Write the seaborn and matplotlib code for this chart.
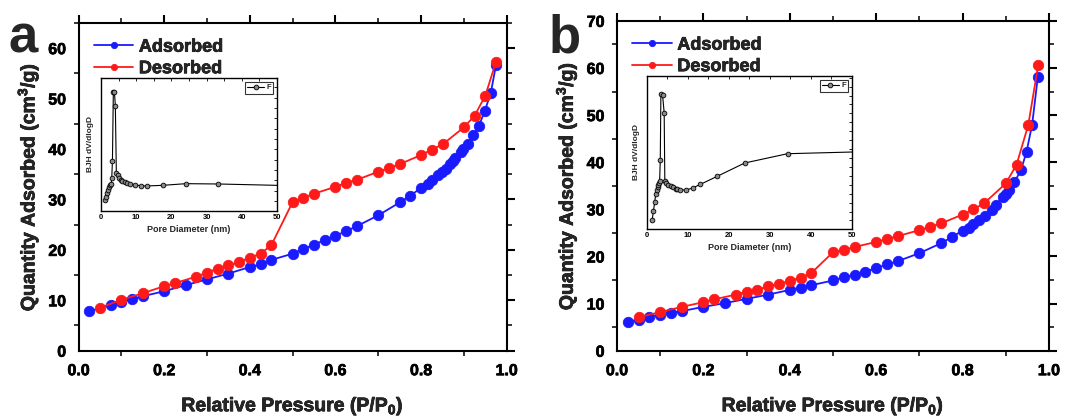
import numpy as np
import pandas as pd
import matplotlib
matplotlib.use("Agg")
import matplotlib.pyplot as plt
import matplotlib.patheffects as pe
from matplotlib.ticker import MultipleLocator, FormatStrFormatter
import seaborn as sns

# ---------------- data ----------------
a_ads_x = [0.025,0.075,0.1,0.125,0.15,0.2,0.25,0.3,0.35,0.4,0.425,0.45,0.5,0.525,0.55,0.575,0.6,0.625,0.65,0.7,0.75,0.775,0.8,0.815,0.825,0.84,0.848,0.857,0.868,0.874,0.879,0.893,0.899,0.910,0.922,0.935,0.949,0.963,0.975]
a_ads_y = [7.8,9.1,9.7,10.25,10.8,11.8,13.0,14.15,15.3,16.6,17.1,18.0,19.25,20.2,21.0,22.0,22.8,23.7,24.7,26.85,29.4,30.75,32.3,33.1,33.8,34.9,35.4,36.0,37.1,37.6,38.3,39.5,40.0,41.0,42.7,44.6,47.6,51.2,56.7]
a_des_x = [0.05,0.1,0.15,0.2,0.225,0.275,0.3,0.325,0.35,0.375,0.4,0.425,0.45,0.5,0.525,0.55,0.6,0.625,0.65,0.7,0.725,0.75,0.8,0.825,0.85,0.9,0.925,0.95,0.975]
a_des_y = [8.5,10.1,11.4,12.8,13.4,14.7,15.5,16.3,16.9,17.6,18.45,19.25,20.9,29.5,30.3,31.15,32.5,33.3,33.9,35.5,36.2,37.0,38.8,39.9,40.9,44.3,46.6,50.6,57.3]

b_ads_x = [0.025,0.05,0.075,0.1,0.125,0.15,0.2,0.25,0.3,0.35,0.4,0.425,0.45,0.5,0.525,0.55,0.575,0.6,0.625,0.65,0.7,0.75,0.775,0.8,0.814,0.825,0.838,0.852,0.867,0.877,0.894,0.9,0.907,0.92,0.935,0.948,0.961,0.974]
b_ads_y = [6.16,6.6,7.2,7.6,8.07,8.4,9.3,10.1,11.0,11.9,12.9,13.4,13.9,14.9,15.6,16.1,16.8,17.5,18.3,19.0,20.7,22.8,24.1,25.5,26.1,26.8,27.7,28.6,29.8,30.9,32.6,33.3,34.1,35.8,38.3,42.2,48.0,58.0]
b_des_x = [0.05,0.1,0.15,0.2,0.225,0.275,0.3,0.325,0.35,0.375,0.4,0.425,0.45,0.5,0.525,0.55,0.6,0.625,0.65,0.7,0.725,0.75,0.8,0.825,0.85,0.9,0.925,0.952,0.975]
b_des_y = [7.1,8.2,9.3,10.3,10.9,11.9,12.5,12.95,13.65,14.2,14.8,15.5,16.5,20.9,21.4,22.0,23.1,23.7,24.3,25.6,26.3,27.0,28.9,30.0,31.3,35.5,39.5,47.9,60.6]

# BJH pore size distributions (arbitrary units)
ia_x = [1.2,1.5,1.76,2.0,2.3,2.6,2.9,3.05,3.24,3.5,3.8,4.07,4.35,4.7,5.1,5.6,6.1,6.7,7.3,8.1,9.6,11.3,13.1,17.6,24.1,33.3,60]
ia_y = [1.10,1.42,1.77,2.09,2.37,2.53,2.69,3.24,4.87,11.51,11.57,10.23,3.75,3.52,3.27,3.08,2.92,2.82,2.73,2.66,2.60,2.47,2.47,2.53,2.69,2.66,2.45]
ib_x = [1.27,1.58,1.9,2.14,2.38,2.6,2.77,2.93,3.09,3.25,3.4,3.8,4.2,4.36,4.75,5.2,5.8,6.4,7.0,7.45,8.0,9.6,11.3,13.0,17.2,23.85,34.3,60]
ib_y = [1.04,2.07,3.07,3.96,4.37,4.70,4.93,5.15,5.37,7.74,15.22,15.11,13.07,5.41,5.22,4.96,4.81,4.70,4.56,4.48,4.41,4.41,4.67,5.04,5.96,7.44,8.48,8.79]

panel_letters = ["a", "b"]
series_labels = ["Adsorbed", "Desorbed"]
xlabel = "Relative Pressure (P/P$\\mathbf{_0}$)"
ylabel = "Quantity Adsorbed (cm$\\mathbf{^3}$/g)"

# ---------------- style ----------------
sns.set_theme(style="white")
plt.rcParams["font.family"] = ["Liberation Sans", "DejaVu Sans"]
plt.rcParams["font.weight"] = "bold"
plt.rcParams["axes.labelweight"] = "bold"
plt.rcParams["mathtext.default"] = "bf"
plt.rcParams["mathtext.fontset"] = "custom"
plt.rcParams["mathtext.bf"] = "Liberation Sans:bold"
plt.rcParams["mathtext.rm"] = "Liberation Sans:bold"

BLUE = "#1a1aff"
RED = "#ff1a1a"
HEAVY = [pe.withStroke(linewidth=0.5, foreground="black")]

fig = plt.figure(figsize=(10.77, 4.17), dpi=100)
ax_a = fig.add_axes([0.0730, 0.159, 0.3975, 0.786])
ax_b = fig.add_axes([0.5729, 0.159, 0.4011, 0.791])
in_a = fig.add_axes([0.0938, 0.494, 0.1634, 0.319])
in_b = fig.add_axes([0.6007, 0.451, 0.1903, 0.367])


def main_panel(ax, ax_x, ax_y, de_x, de_y, ymax):
    for xs, ys, col, lab in [(ax_x, ax_y, BLUE, series_labels[0]),
                             (de_x, de_y, RED, series_labels[1])]:
        sns.lineplot(x=xs, y=ys, ax=ax, color=col, marker="o", markersize=7.5,
                     markeredgecolor=col, markeredgewidth=0.6, linewidth=1.3,
                     label=lab, sort=False, estimator=None)
    ax.set_xlim(0, 1.0)
    ax.set_ylim(0, ymax)
    ax.xaxis.set_major_locator(MultipleLocator(0.2))
    ax.xaxis.set_minor_locator(MultipleLocator(0.1))
    ax.yaxis.set_major_locator(MultipleLocator(10))
    ax.yaxis.set_minor_locator(MultipleLocator(5))
    ax.xaxis.set_major_formatter(FormatStrFormatter("%.1f"))
    for s in ax.spines.values():
        s.set_linewidth(1.5)
        s.set_color("black")
    ax.tick_params(which="major", direction="out", length=6, width=1.5,
                   labelsize=11.5, pad=3, colors="black",
                   top=True, right=True)
    ax.tick_params(which="minor", direction="out", length=3.5, width=1.3,
                   top=True, right=True, left=True, bottom=True)
    ax.set_xlabel(xlabel, fontsize=14, fontweight="bold", labelpad=13)
    ax.set_ylabel(ylabel, fontsize=14, fontweight="bold", labelpad=5)
    ax.xaxis.label.set_path_effects(HEAVY)
    ax.yaxis.label.set_path_effects(HEAVY)
    leg = ax.legend(loc="upper left", frameon=False, fontsize=13,
                    handlelength=2.2, handletextpad=0.3, labelspacing=0.25,
                    borderaxespad=0.2, bbox_to_anchor=(0.01, 0.985),
                    markerscale=0.6)
    for t in leg.get_texts():
        t.set_fontweight("bold")
        t.set_path_effects(HEAVY)


def inset_panel(ax, xs, ys, ymax, nticks):
    ax.set_facecolor("white")
    sns.lineplot(x=xs, y=ys, ax=ax, color="black", marker="o", markersize=3.4,
                 markerfacecolor="#8a8a8a", markeredgecolor="black",
                 markeredgewidth=0.6, linewidth=0.8, label="F",
                 sort=False, estimator=None)
    ax.set_xlim(0, 50)
    ax.set_ylim(0.05, ymax)
    ax.xaxis.set_major_locator(MultipleLocator(10))
    ax.xaxis.set_minor_locator(MultipleLocator(5))
    ax.set_yticks(list(range(1, nticks + 1)))
    ax.set_yticklabels([])
    for s in ax.spines.values():
        s.set_linewidth(1.0)
        s.set_color("black")
    ax.tick_params(which="both", direction="in", top=True, right=True,
                   colors="black", width=0.6)
    ax.tick_params(which="major", length=2.5, labelsize=5.5, pad=2)
    ax.tick_params(which="minor", length=1.8)
    ax.set_xlabel("Pore Diameter (nm)", fontsize=6.5, fontweight="bold", labelpad=3)
    ax.set_ylabel("BJH dV/dlogD", fontsize=6, fontweight="bold", labelpad=3)
    leg = ax.legend(loc="upper right", fontsize=5.5, frameon=True, fancybox=False,
                    edgecolor="black", handlelength=2.2, handletextpad=0.3,
                    borderpad=0.3, borderaxespad=0.5)
    leg.get_frame().set_linewidth(0.8)


main_panel(ax_a, a_ads_x, a_ads_y, a_des_x, a_des_y, 65)
main_panel(ax_b, b_ads_x, b_ads_y, b_des_x, b_des_y, 70)
inset_panel(in_a, ia_x, ia_y, 12.9, 12)
inset_panel(in_b, ib_x, ib_y, 17.2, 17)

# make main tick labels bold and heavy after layout
fig.canvas.draw()
for ax in (ax_a, ax_b):
    for t in ax.get_xticklabels() + ax.get_yticklabels():
        t.set_fontweight("bold")
        t.set_path_effects([pe.withStroke(linewidth=0.5, foreground="black")])
for ax in (in_a, in_b):
    for t in ax.get_xticklabels():
        t.set_fontweight("bold")

fig.text(0.008, 0.873, panel_letters[0], fontsize=38, fontweight="bold", va="baseline")
fig.text(0.509, 0.873, panel_letters[1], fontsize=38, fontweight="bold", va="baseline")

fig.savefig("out.png", dpi=100)
